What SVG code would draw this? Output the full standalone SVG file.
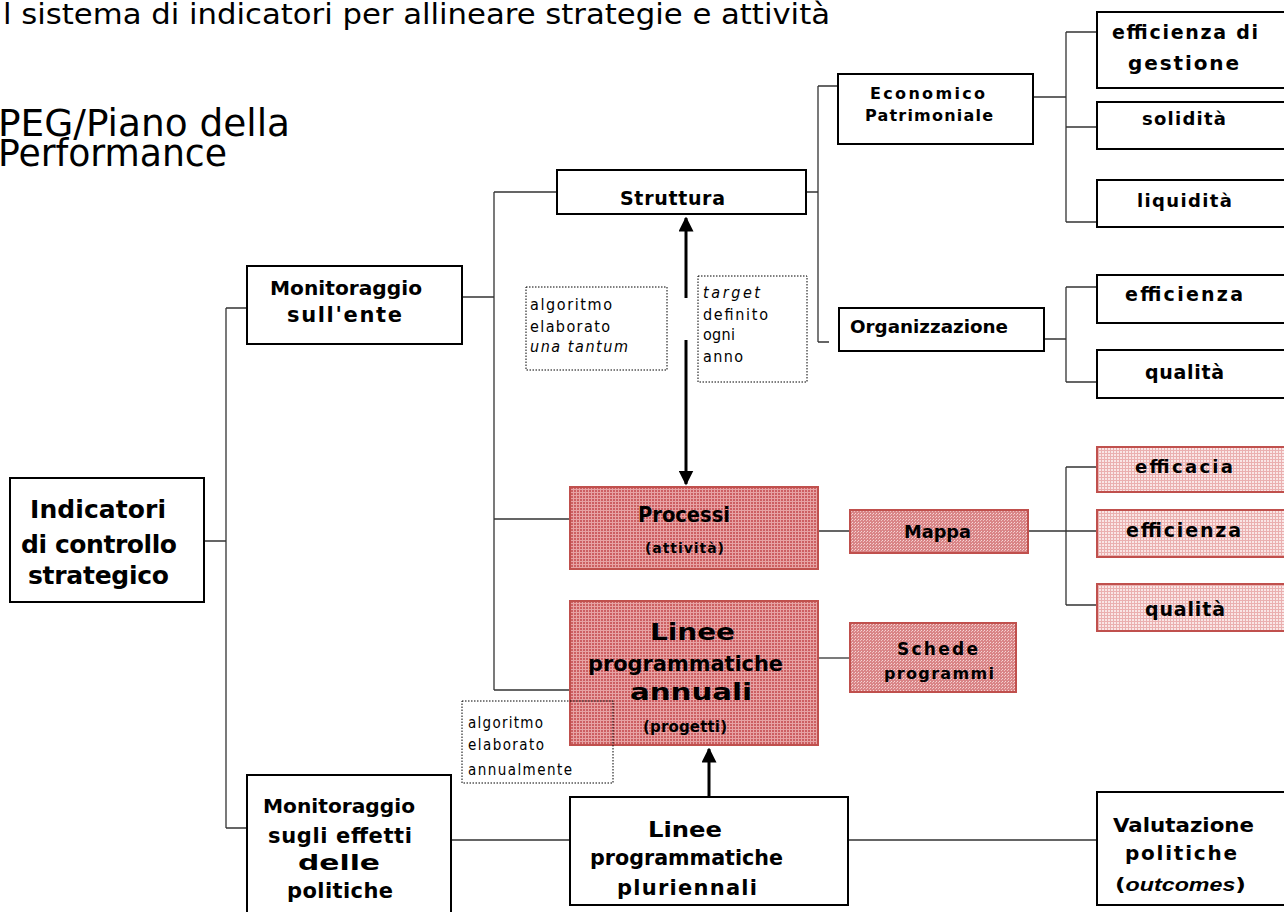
<svg xmlns="http://www.w3.org/2000/svg" width="1284" height="912" viewBox="0 0 1284 912">
<defs>
<pattern id="pDark" width="3" height="3" patternUnits="userSpaceOnUse"><rect width="3" height="3" fill="#cc5f62"/><rect width="3" height="1" fill="#e7a3a4"/><rect width="1" height="3" fill="#e7a3a4"/></pattern>
<pattern id="pMed" width="3" height="3" patternUnits="userSpaceOnUse"><rect width="3" height="3" fill="#d98587"/><rect x="0" y="0" width="1" height="1" fill="#f6d6d6"/><rect x="2" y="1" width="1" height="1" fill="#f0c0c0"/></pattern>
<pattern id="pLight" width="3" height="3" patternUnits="userSpaceOnUse"><rect width="3" height="3" fill="#f9e6e6"/><rect width="3" height="1" fill="#eab0b0"/><rect width="1" height="3" fill="#eab0b0"/></pattern>
<marker id="arr" viewBox="0 0 10 10" refX="9" refY="5" markerWidth="5" markerHeight="5" orient="auto-start-reverse"><path d="M0,0 L10,5 L0,10 z" fill="#000"/></marker>
</defs>
<style>
.box{fill:#fff;stroke:#000;stroke-width:2}
.red{stroke:#c0504d;stroke-width:2}
.dot{fill:none;stroke:#000;stroke-width:1;stroke-dasharray:1.5 1.5}
.ln{fill:none;stroke:#333;stroke-width:1.3}
.t{font-family:"DejaVu Sans","Liberation Sans",sans-serif;font-weight:bold;fill:#000}
.n{font-family:"DejaVu Sans Condensed","DejaVu Sans",sans-serif;fill:#000}
</style>
<g id="title">
<text class="n" x="3" y="24" font-size="28" textLength="827" lengthAdjust="spacingAndGlyphs">l sistema di indicatori per allineare strategie e attività</text>
<text class="n" x="-2" y="136" font-size="37" textLength="292" lengthAdjust="spacingAndGlyphs">PEG/Piano della</text>
<text class="n" x="-2" y="166" font-size="37" textLength="229" lengthAdjust="spacingAndGlyphs">Performance</text>
</g>
<g id="connectors">
<path class="ln" d="M204,541 H226 M226,308 V828 M226,308 H247 M226,828 H247"/>
<path class="ln" d="M462,297 H494 M494,192 V690 M494,192 H557 M494,519 H570 M494,690 H570"/>
<path class="ln" d="M806,192 H818 M818,86 V342 M818,86 H838 M818,342 H829"/>
<path class="ln" d="M1033,97 H1066 M1066,32 V222 M1066,32 H1097 M1066,127 H1097 M1066,222 H1097"/>
<path class="ln" d="M1044,339 H1066 M1066,287 V382 M1066,287 H1097 M1066,382 H1097"/>
<path class="ln" d="M818,531 H850 M1028,531 H1097 M1066,467 V605 M1066,467 H1097 M1066,605 H1097"/>
<path class="ln" d="M818,658 H850"/>
<path class="ln" d="M451,840 H570 M848,840 H1097"/>
<path d="M686,298 V218" stroke="#000" stroke-width="3" fill="none" marker-end="url(#arr)"/>
<path d="M686,340 V484" stroke="#000" stroke-width="3" fill="none" marker-end="url(#arr)"/>
<path d="M709,797 V749" stroke="#000" stroke-width="3" fill="none" marker-end="url(#arr)"/>
</g>
<g id="indicatori"><rect class="box" x="10" y="478" width="194" height="124"/>
<text class="t" font-size="25" x="30" y="518" textLength="136">Indicatori</text>
<text class="t" font-size="25" x="21" y="553" textLength="156">di controllo</text>
<text class="t" font-size="25" x="28" y="584" textLength="141">strategico</text></g>
<g id="mon-ente"><rect class="box" x="247" y="266" width="215" height="78"/>
<text class="t" font-size="20" x="270" y="295" textLength="152" lengthAdjust="spacingAndGlyphs">Monitoraggio</text>
<text class="t" font-size="21" x="287" y="322" textLength="115">sull'ente</text></g>
<g id="mon-effetti"><rect class="box" x="247" y="775" width="204" height="145"/>
<text class="t" font-size="20" x="263" y="813" textLength="152" lengthAdjust="spacingAndGlyphs">Monitoraggio</text>
<text class="t" font-size="21" x="268" y="843" textLength="144">sugli effetti</text>
<text class="t" font-size="22" x="298" y="870" textLength="82" lengthAdjust="spacingAndGlyphs">delle</text>
<text class="t" font-size="21" x="287" y="898" textLength="106">politiche</text></g>
<g id="struttura"><rect class="box" x="557" y="170" width="249" height="44"/>
<text class="t" font-size="19" x="620" y="205" textLength="105">Struttura</text></g>
<g id="economico"><rect class="box" x="838" y="74" width="195" height="70"/>
<text class="t" font-size="16" x="870" y="99" textLength="115">Economico</text>
<text class="t" font-size="16" x="865" y="121" textLength="128">Patrimoniale</text></g>
<g id="organizzazione"><rect class="box" x="839" y="308" width="205" height="43"/>
<text class="t" font-size="17" x="850" y="333" textLength="158" lengthAdjust="spacingAndGlyphs">Organizzazione</text></g>
<g id="eff-gestione"><rect class="box" x="1097" y="12" width="195" height="76"/>
<text class="t" font-size="19" x="1112" y="39" textLength="146">efficienza di</text>
<text class="t" font-size="20" x="1128" y="70" textLength="111">gestione</text></g>
<g id="solidita"><rect class="box" x="1097" y="102" width="195" height="47"/>
<text class="t" font-size="18" x="1142" y="125" textLength="84">solidità</text></g>
<g id="liquidita"><rect class="box" x="1097" y="180" width="195" height="47"/>
<text class="t" font-size="18" x="1137" y="207" textLength="95">liquidità</text></g>
<g id="efficienza-org"><rect class="box" x="1097" y="275" width="195" height="48"/>
<text class="t" font-size="19" x="1125" y="301" textLength="118">efficienza</text></g>
<g id="qualita-org"><rect class="box" x="1097" y="350" width="195" height="48"/>
<text class="t" font-size="19" x="1145" y="379" textLength="79">qualità</text></g>
<g id="processi"><rect class="red" fill="url(#pDark)" x="570" y="487" width="248" height="82"/>
<text class="t" font-size="21" x="638" y="522" textLength="92" lengthAdjust="spacingAndGlyphs">Processi</text>
<text class="t" font-size="14" x="645" y="553" textLength="79">(attività)</text></g>
<g id="mappa"><rect class="red" fill="url(#pMed)" x="850" y="510" width="178" height="43"/>
<text class="t" font-size="17" x="904" y="538" textLength="67" lengthAdjust="spacingAndGlyphs">Mappa</text></g>
<g id="efficacia"><rect class="red" stroke-width="1.5" fill="url(#pLight)" x="1097" y="447" width="195" height="45"/>
<text class="t" font-size="18" x="1135" y="473" textLength="98">efficacia</text></g>
<g id="efficienza-proc"><rect class="red" stroke-width="1.5" fill="url(#pLight)" x="1097" y="510" width="195" height="47"/>
<text class="t" font-size="19" x="1126" y="537" textLength="115">efficienza</text></g>
<g id="qualita-proc"><rect class="red" stroke-width="1.5" fill="url(#pLight)" x="1097" y="584" width="195" height="47"/>
<text class="t" font-size="19" x="1145" y="616" textLength="80">qualità</text></g>
<g id="linee-annuali"><rect class="red" fill="url(#pDark)" x="570" y="601" width="248" height="144"/>
<text class="t" font-size="23" x="650" y="640" textLength="85" lengthAdjust="spacingAndGlyphs">Linee</text>
<text class="t" font-size="21" x="588" y="671" textLength="195" lengthAdjust="spacingAndGlyphs">programmatiche</text>
<text class="t" font-size="23" x="630" y="700" textLength="122" lengthAdjust="spacingAndGlyphs">annuali</text>
<text class="t" font-size="15" x="643" y="732" textLength="84">(progetti)</text></g>
<g id="schede"><rect class="red" fill="url(#pMed)" x="850" y="623" width="166" height="69"/>
<text class="t" font-size="17" x="897" y="655" textLength="81">Schede</text>
<text class="t" font-size="16" x="884" y="679" textLength="110">programmi</text></g>
<g id="linee-pluriennali"><rect class="box" x="570" y="797" width="278" height="108"/>
<text class="t" font-size="22" x="648" y="837" textLength="74" lengthAdjust="spacingAndGlyphs">Linee</text>
<text class="t" font-size="21" x="590" y="865" textLength="193" lengthAdjust="spacingAndGlyphs">programmatiche</text>
<text class="t" font-size="21" x="617" y="895" textLength="140">pluriennali</text></g>
<g id="valutazione"><rect class="box" x="1097" y="792" width="195" height="113"/>
<text class="t" font-size="20" x="1113" y="832" textLength="141" lengthAdjust="spacingAndGlyphs">Valutazione</text>
<text class="t" font-size="20" x="1125" y="860" textLength="112">politiche</text>
<text class="t" font-size="18" x="1115" y="891" textLength="131" lengthAdjust="spacingAndGlyphs">(<tspan font-family="Liberation Sans,sans-serif" font-style="italic">outcomes</tspan>)</text></g>
<g id="note-una-tantum"><rect class="dot" x="526" y="287" width="141" height="83"/>
<text class="n" font-size="16" x="530" y="310" textLength="82">algoritmo</text>
<text class="n" font-size="16" x="530" y="332" textLength="80">elaborato</text>
<text class="n" font-size="16" x="530" y="352" font-style="italic" textLength="98">una tantum</text></g>
<g id="note-target"><rect class="dot" x="698" y="276" width="109" height="106"/>
<text class="n" font-size="16" x="703" y="298" font-style="italic" textLength="57">target</text>
<text class="n" font-size="16" x="703" y="320" textLength="65">definito</text>
<text class="n" font-size="16" x="703" y="340" textLength="32">ogni</text>
<text class="n" font-size="16" x="703" y="362" textLength="40">anno</text></g>
<g id="note-annualmente"><rect class="dot" x="462" y="701" width="151" height="82"/>
<text class="n" font-size="15" x="468" y="728" textLength="75">algoritmo</text>
<text class="n" font-size="15" x="468" y="750" textLength="76">elaborato</text>
<text class="n" font-size="15" x="468" y="775" textLength="104">annualmente</text></g>
</svg>
